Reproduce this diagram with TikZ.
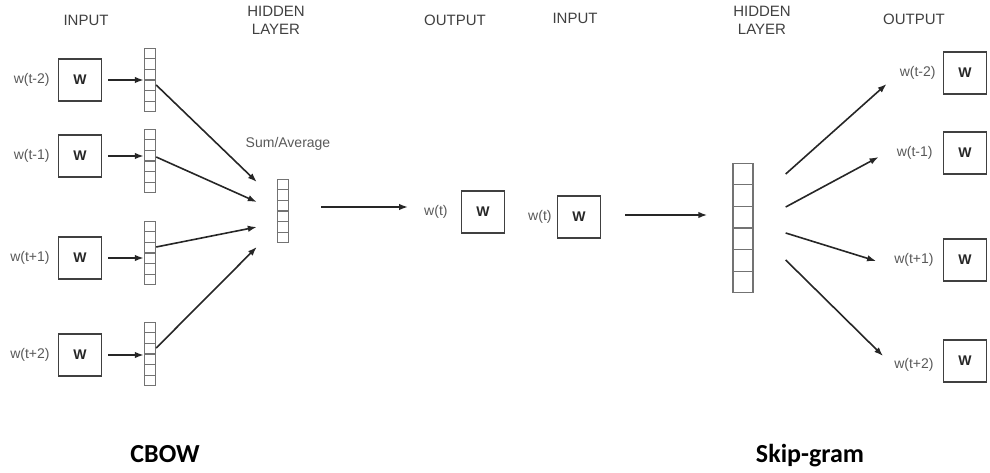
\documentclass[tikz,border=0pt]{standalone}
\usepackage{fontspec}
\setmainfont{Liberation Sans}
\newfontfamily\modelfont{Carlito}
\usetikzlibrary{positioning,calc,arrows.meta}
\tikzset{
  word/.style={rectangle, draw=black!75, line width=1.5pt, minimum width=43pt, minimum height=42pt, font=\fontsize{14}{16}\selectfont\bfseries, text=black!85},
  vec/.style={rectangle, draw=black!55, line width=1.4pt, minimum width=11pt, minimum height=63pt, inner sep=0pt},
  bigvec/.style={vec, minimum width=20pt, minimum height=129pt},
  cell/.style={draw=black!55, line width=1.4pt},
  lbl/.style={font=\fontsize{14}{16}\selectfont, text=black!65, inner sep=1pt},
  head/.style={font=\fontsize{15}{18}\selectfont, text=black!75, align=center},
  model/.style={font=\modelfont\bfseries\fontsize{26}{30}\selectfont, anchor=base},
  connect/.style={-{Latex[length=9pt,width=6.5pt]}, line width=1.6pt, draw=black!85}
}

\begin{document}
\begin{tikzpicture}[x=1pt,y=-1pt]
  \useasboundingbox (0,0) rectangle (990,473);

  % CBOW
  \node[head] (inhead1) at (86,20) {INPUT};
  \node[head] (hidhead1) at (276,20) {HIDDEN\\LAYER};
  \node[head] (outhead1) at (455,20) {OUTPUT};

  \node[word] (b1) at (80,80) {W};
  \node[word] (b2) at (80,156) {W};
  \node[word] (b3) at (80,258) {W};
  \node[word] (b4) at (80,355) {W};
  \node[lbl] (l1) [left=7pt of b1] {w(t-2)};
  \node[lbl] (l2) [left=7pt of b2] {w(t-1)};
  \node[lbl] (l3) [left=7pt of b3] {w(t+1)};
  \node[lbl] (l4) [left=7pt of b4] {w(t+2)};

  \node[vec] (v1) at (150,80) {};
  \node[vec] (v2) at (150,161) {};
  \node[vec] (v3) at (150,253) {};
  \node[vec] (v4) at (150,354) {};
  \node[vec] (h1) at (283,211) {};
  \node[lbl] (sum) at (288,144) {Sum/Average};

  \node[word] (o1) at (483,212) {W};
  \node[lbl] (wt1) [left=12pt of o1] {w(t)};

  \foreach \b/\v in {b1/v1,b2/v2,b3/v3,b4/v4}
    \draw[connect, shorten <=6pt] (\b.east) -- (\b.east -| \v.west);

  \draw[connect] ($(v1.east)+(0,5)$) -- ($(h1.west)+(-20,-29)$);
  \draw[connect] ($(v2.east)+(0,-4)$) -- ($(h1.west)+(-20,-9)$);
  \draw[connect] ($(v3.east)+(0,-6)$) -- ($(h1.west)+(-20,16)$);
  \draw[connect] ($(v4.east)+(0,-6)$) -- ($(h1.west)+(-20,36)$);
  \draw[connect] ($(h1.east)+(32,-4)$) -- ($(wt1.west)+(-15,-5)$);

  % Skip-gram
  \node[head] (inhead2) at (575,18) {INPUT};
  \node[head] (hidhead2) at (762,20) {HIDDEN\\LAYER};
  \node[head] (outhead2) at (914,19) {OUTPUT};

  \node[word] (ib) at (579,217) {W};
  \node[lbl] (wt2) [left=4pt of ib] {w(t)};
  \node[bigvec] (h2) at (743,228) {};

  \node[word] (ob1) at (965,73) {W};
  \node[word] (ob2) at (965,153) {W};
  \node[word] (ob3) at (965,260) {W};
  \node[word] (ob4) at (965,361) {W};
  \node[lbl] (ol1) [left=6pt of ob1] {w(t-2)};
  \node[lbl] (ol2) [left=9pt of ob2] {w(t-1)};
  \node[lbl] (ol3) [left=8pt of ob3] {w(t+1)};
  \node[lbl] (ol4) [left=8pt of ob4, yshift=-4pt] {w(t+2)};

  \draw[connect] ($(ib.east)+(24,-2)$) -- ($(h2.west)+(-25,-13)$);
  \draw[connect] ($(h2.east)+(32,-54)$) -- ($(ol1.west)+(-12,11)$);
  \draw[connect] ($(h2.east)+(32,-21)$) -- ($(ol2.west)+(-17,4)$);
  \draw[connect] ($(h2.east)+(32,5)$) -- ($(ol3.west)+(-17,1)$);
  \draw[connect] ($(h2.east)+(32,32)$) -- ($(ol4.west)+(-10,-9)$);

  % cells of the vectors
  \foreach \v in {v1,v2,v3,v4,h1,h2}
    \foreach \i in {1,...,5}
      \draw[cell] ($(\v.north west)!\i/6!(\v.south west)$) -- ($(\v.north east)!\i/6!(\v.south east)$);

  \node[model] (cbow) at (165,462) {CBOW};
  \node[model] (skip) at (810,462) {Skip-gram};
\end{tikzpicture}
\end{document}
